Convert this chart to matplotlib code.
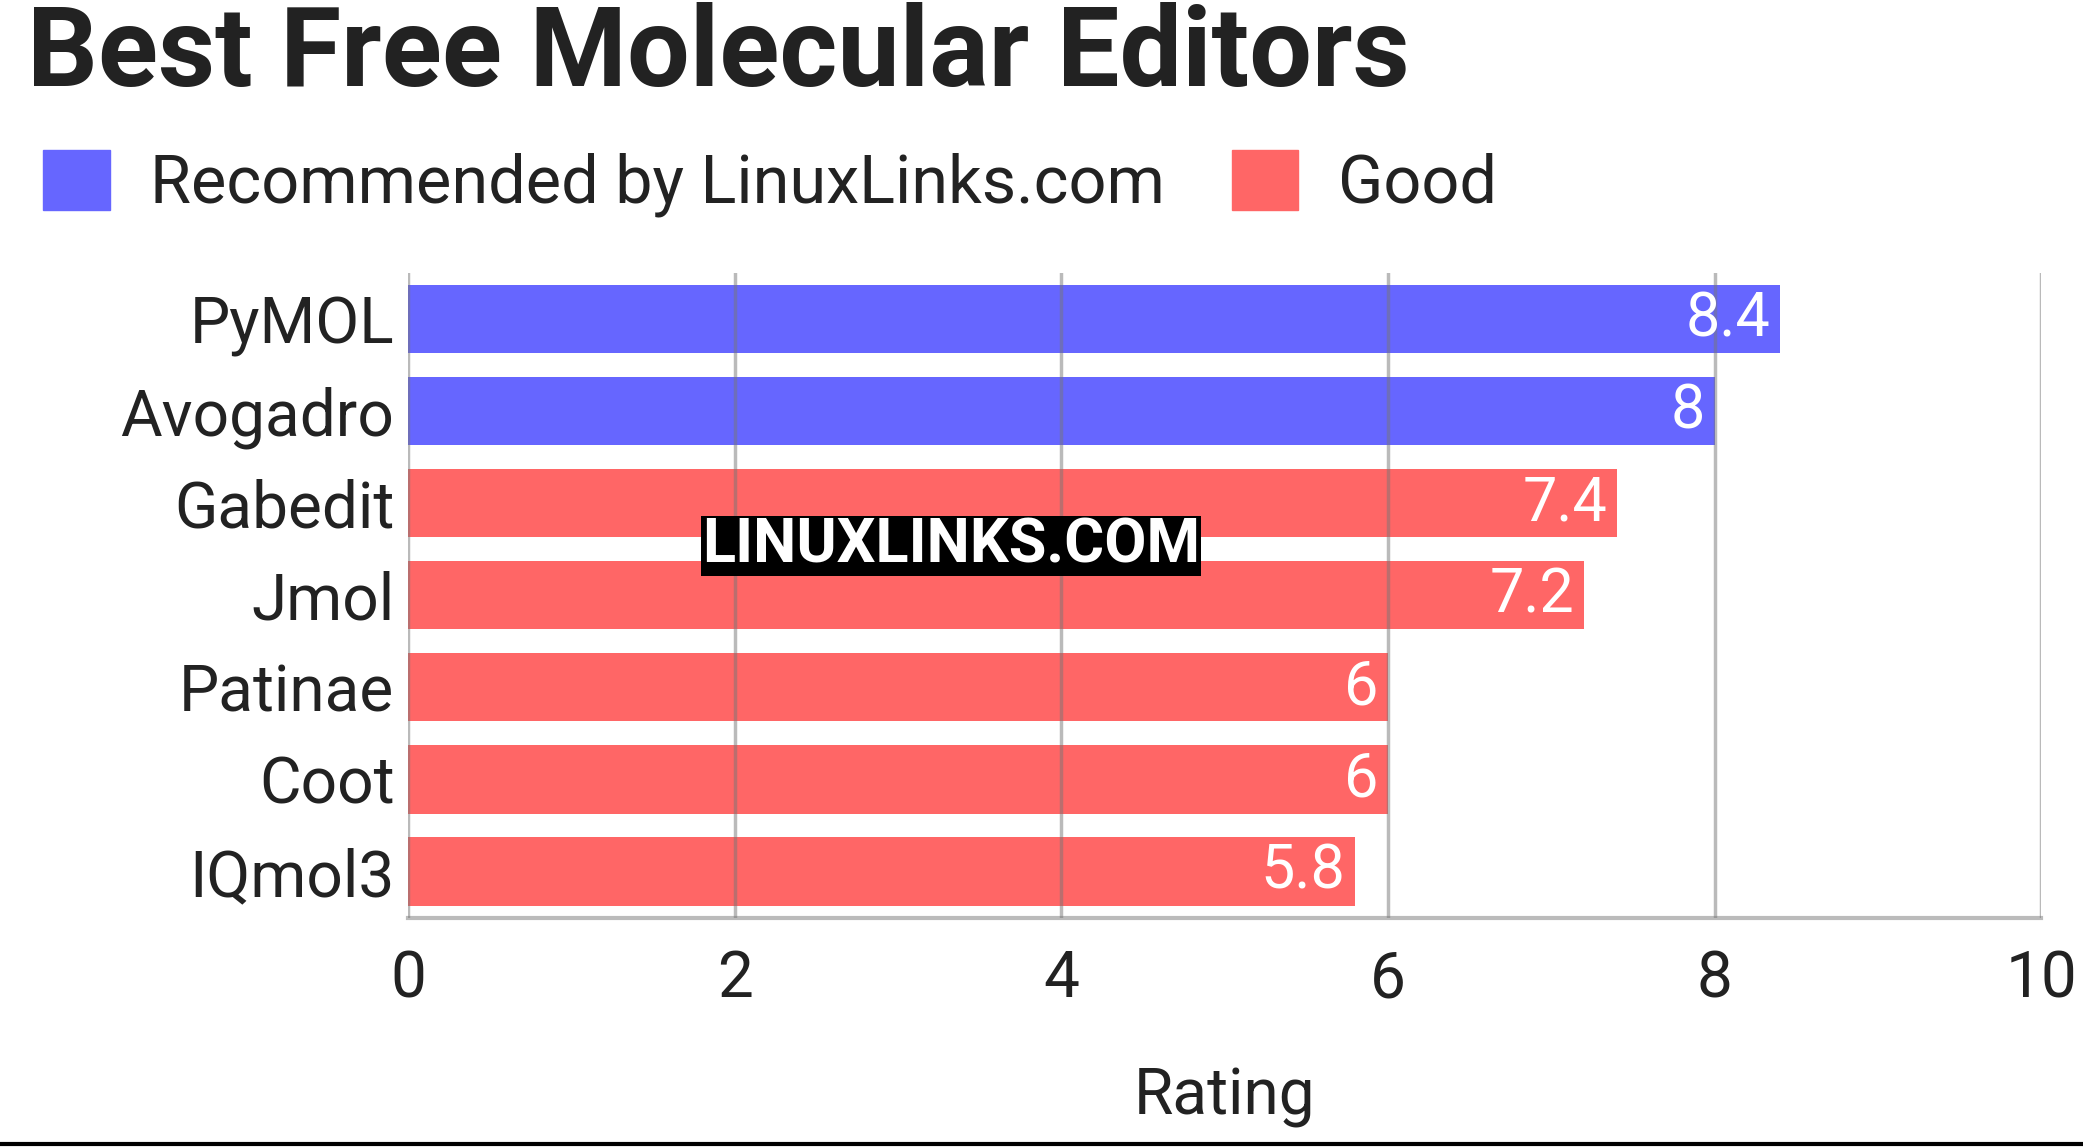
import matplotlib
matplotlib.use("Agg")
import matplotlib.pyplot as plt
from matplotlib.patches import Patch

names = ["PyMOL", "Avogadro", "Gabedit", "Jmol", "Patinae", "Coot", "IQmol3"]
ratings = [8.4, 8, 7.4, 7.2, 6, 6, 5.8]
groups = ["Recommended by LinuxLinks.com", "Recommended by LinuxLinks.com", "Good", "Good", "Good", "Good", "Good"]
labels = ["8.4", "8", "7.4", "7.2", "6", "6", "5.8"]
colors = {"Recommended by LinuxLinks.com": "#6666ff", "Good": "#ff6666"}

plt.rcParams['font.family'] = ['Roboto', 'DejaVu Sans']
fig = plt.figure(figsize=(20.83, 11.47), dpi=100)
ax = fig.add_axes([0.196, 0.200, 0.784, 0.562])
y = list(range(len(names)))
ax.barh(y, ratings, height=0.74, color=[colors[g] for g in groups], zorder=2)
ax.set_ylim(len(names) - 0.5, -0.5)
ax.set_xlim(0, 10)
ax.set_yticks(y)
ax.set_yticklabels(names, fontsize=46, color="#222222")
ax.set_xticks([0, 2, 4, 6, 8, 10])
ax.set_xticklabels(["0", "2", "4", "6", "8", "10"], fontsize=46, color="#222222")
ax.tick_params(length=0, pad=10)
ax.tick_params(axis='x', pad=22)
for s in ["top", "right", "left"]:
    ax.spines[s].set_visible(False)
ax.spines["bottom"].set_color("#bbbbbb")
ax.spines["bottom"].set_linewidth(3)
ax.grid(axis='x', color="#777777", alpha=0.5, linewidth=2.5, zorder=3)
ax.set_axisbelow(False)
for yi, v, l in zip(y, ratings, labels):
    ax.text(v - 0.06, yi, l, ha='right', va='center', fontsize=44, color='white', zorder=4)
ax.set_xlabel("Rating", fontsize=46, color="#222222", labelpad=40)

fig.text(0.013, 0.952, "Best Free Molecular Editors", fontsize=80, fontweight='bold',
         color="#222222", va='center', ha='left')
handles = [Patch(color=colors[k]) for k in ["Recommended by LinuxLinks.com", "Good"]]
fig.legend(handles, ["Recommended by LinuxLinks.com", "Good"], loc='center left',
           bbox_to_anchor=(-0.008, 0.84), ncol=2, frameon=False, fontsize=48,
           handlelength=1.0, handleheight=1.0, columnspacing=1.0, handletextpad=0.6,
           labelcolor="#222222")
ax.text(0.337, 0.524, "LINUXLINKS.COM", transform=fig.transFigure, fontsize=44,
        fontweight='bold', color='white', ha='left', va='center', zorder=5,
        bbox=dict(facecolor='black', edgecolor='none', pad=1))
fig.add_artist(plt.Line2D([0, 1], [0.003, 0.003], color='black', linewidth=3, transform=fig.transFigure))
fig.savefig("out.png", dpi=100)
